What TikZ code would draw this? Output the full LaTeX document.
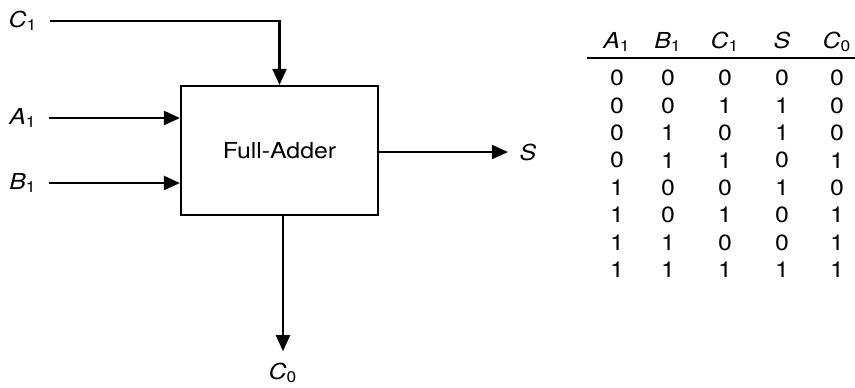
\documentclass[tikz,border=0pt]{standalone}
\usepackage{fontspec}
\setmainfont{TeX Gyre Heros}[FakeStretch=1.13]
\usepackage{tikz}
\usetikzlibrary{positioning,arrows.meta,calc}
\newcommand{\sig}[2]{\textit{#1}\textsubscript{#2}}

\begin{document}
\begin{tikzpicture}[x=0.5pt, y=-0.5pt, line width=1.1pt,
    font=\fontsize{11}{13}\selectfont,
    >={Triangle[length=8pt,width=7pt]}]
      \useasboundingbox (0,0) rectangle (855,387);

      % Full-adder block
      \node[draw, minimum width=98.5pt, minimum height=64.5pt] (fa) at (279.5,150.5) {Full-Adder};

      % Inputs
      \node (c1) at (23,21) {\sig{C}{1}};
      \node (a1) at (23,118) {\sig{A}{1}};
      \node (b1) at (23,183) {\sig{B}{1}};
      \draw[->] ([xshift=2.5pt]c1.east) -| (fa.north);
      \draw[->] ([xshift=2.5pt]a1.east) -- (fa.west |- a1);
      \draw[->] ([xshift=2.5pt]b1.east) -- (fa.west |- b1);

      % Outputs
      \node (s) at (528,152) {\textit{S}};
      \node (c0) at (283,373) {\sig{C}{0}};
      \draw[->] (fa.east |- s) -- ([xshift=-2pt]s.west);
      \draw[->] (fa.south -| c0) -- ([yshift=2pt]c0.north);

      % Truth table
      \foreach \lab/\x [count=\j] in {{\sig{A}{1}}/617, {\sig{B}{1}}/668,
          {\sig{C}{1}}/725, {\textit{S}}/782, {\sig{C}{0}}/837}
        \node[anchor=base] (h\j) at (\x,48) {\lab};
      \draw (587,58) -- (855,58);
      \foreach \row [count=\i] in {{0,0,0,0,0},{0,0,1,1,0},{0,1,0,1,0},{0,1,1,0,1},
          {1,0,0,1,0},{1,0,1,0,1},{1,1,0,0,1},{1,1,1,1,1}}
        \foreach \v [count=\j] in \row
          \node (t\i\j) at ($(h\j.base)+(0,{2.6+27.4*\i})$) {\v};
\end{tikzpicture}
\end{document}
